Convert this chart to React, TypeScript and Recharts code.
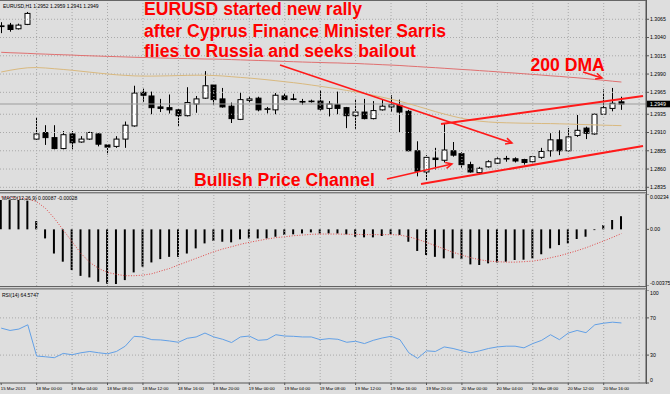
import React from 'react';
import { ComposedChart, Bar, Line, XAxis, YAxis, ReferenceLine } from 'recharts';

// EURUSD H1, 15 Mar 20:00 .. 20 Mar 18:00 (71 bars)
const opens = [
  1.3055, 1.3057, 1.3052, 1.3058, 1.2901, 1.2910, 1.2903, 1.2888, 1.2908, 1.2897,
  1.2901, 1.2908, 1.2893, 1.2891, 1.2901, 1.2919, 1.2965, 1.2960, 1.2945, 1.2944,
  1.2941, 1.2933, 1.2949, 1.2957, 1.2975, 1.2956, 1.2946, 1.2928, 1.2954, 1.2957,
  1.2942, 1.2941, 1.2960, 1.2956, 1.29525, 1.2953, 1.2953, 1.2943, 1.2948, 1.2944,
  1.2933, 1.2938, 1.2929, 1.2941, 1.2945, 1.2947, 1.2939, 1.2885, 1.2856, 1.2875,
  1.2872, 1.2885, 1.2881, 1.2866, 1.2855, 1.2863, 1.2868, 1.2874, 1.2874, 1.2873,
  1.2870, 1.2876, 1.2885, 1.2900, 1.2885, 1.2906, 1.2916, 1.2908, 1.2935, 1.2943, 1.2952,
];
const highs = [
  1.3061, 1.3060, 1.3059, 1.3075, 1.2931, 1.2920, 1.2920, 1.2912, 1.2912, 1.2905,
  1.2911, 1.2909, 1.2894, 1.2905, 1.2925, 1.2974, 1.2970, 1.2966, 1.2956, 1.2962,
  1.2942, 1.2972, 1.2960, 1.2994, 1.2976, 1.2971, 1.2951, 1.2965, 1.2960, 1.2959,
  1.2945, 1.2964, 1.2964, 1.2963, 1.2956, 1.2955, 1.2968, 1.2953, 1.2966, 1.2945,
  1.2956, 1.2956, 1.2953, 1.2955, 1.2961, 1.2955, 1.2941, 1.2898, 1.2879, 1.2889,
  1.2922, 1.2897, 1.2883, 1.2870, 1.2863, 1.2872, 1.2876, 1.2878, 1.2876, 1.2874,
  1.2878, 1.2889, 1.2909, 1.2913, 1.2916, 1.2934, 1.2918, 1.2936, 1.2969, 1.2971, 1.2959,
];
const lows = [
  1.3046, 1.3048, 1.3051, 1.3057, 1.2900, 1.2893, 1.2887, 1.2887, 1.2887, 1.2896,
  1.2900, 1.2891, 1.2880, 1.2889, 1.2889, 1.2918, 1.2952, 1.2935, 1.2938, 1.2936,
  1.2919, 1.2932, 1.2937, 1.2956, 1.2948, 1.2944, 1.2923, 1.2927, 1.2951, 1.2939,
  1.2936, 1.2935, 1.2954, 1.2954, 1.2948, 1.2951, 1.2940, 1.2932, 1.2935, 1.2916,
  1.2915, 1.2928, 1.2928, 1.2940, 1.2938, 1.2910, 1.2884, 1.2850, 1.2844, 1.2859,
  1.2869, 1.2877, 1.2862, 1.2855, 1.2854, 1.2862, 1.2867, 1.2870, 1.2869, 1.2866,
  1.2868, 1.2874, 1.2877, 1.2879, 1.2884, 1.2904, 1.2901, 1.2907, 1.2934, 1.2939, 1.2941,
];
const closes = [
  1.3056, 1.3051, 1.3057, 1.3073, 1.2908, 1.2903, 1.2888, 1.2907, 1.2896, 1.2901,
  1.2910, 1.2894, 1.2890, 1.2901, 1.2920, 1.2964, 1.2961, 1.2944, 1.2943, 1.2941,
  1.2933, 1.2951, 1.2956, 1.2974, 1.2955, 1.2945, 1.2929, 1.2955, 1.2956, 1.2941,
  1.29425, 1.2961, 1.2955, 1.29555, 1.2952, 1.29525, 1.2942, 1.2949, 1.2943, 1.2933,
  1.2938, 1.2929, 1.2940, 1.2946, 1.2948, 1.2938, 1.2885, 1.2857, 1.2876, 1.2873,
  1.2886, 1.2879, 1.2866, 1.2856, 1.2861, 1.2870, 1.2874, 1.28745, 1.2871, 1.2869,
  1.2877, 1.2884, 1.2900, 1.2885, 1.2904, 1.2913, 1.2909, 1.2935, 1.2944, 1.2950, 1.2949,
];

// 200 DMA (red) and slower tan average
const ma200 = [
  1.30198, 1.30192, 1.30188, 1.30183, 1.30177, 1.30173, 1.30168, 1.30164, 1.30160, 1.30154,
  1.30150, 1.30146, 1.30142, 1.30138, 1.30134, 1.30130, 1.30127, 1.30124, 1.30120, 1.30117,
  1.30114, 1.30112, 1.30109, 1.30106, 1.30105, 1.30102, 1.30098, 1.30094, 1.30090, 1.30086,
  1.30082, 1.30078, 1.30073, 1.30069, 1.30065, 1.30061, 1.30058, 1.30054, 1.30052, 1.30047,
  1.30045, 1.30039, 1.30034, 1.30028, 1.30023, 1.30017, 1.30009, 1.30002, 1.29994, 1.29987,
  1.29979, 1.29971, 1.29963, 1.29956, 1.29947, 1.29939, 1.29931, 1.29921, 1.29913, 1.29904,
  1.29895, 1.29886, 1.29876, 1.29868, 1.29858, 1.29849, 1.29838, 1.29826, 1.29815, 1.29802, 1.29791,
];
const maTan = [
  1.29928, 1.29952, 1.29972, 1.29986, 1.29989, 1.29983, 1.29973, 1.29963, 1.29952, 1.29939,
  1.29926, 1.29913, 1.29901, 1.29890, 1.29882, 1.29875, 1.29872, 1.29872, 1.29874, 1.29876,
  1.29879, 1.29882, 1.29884, 1.29884, 1.29880, 1.29874, 1.29864, 1.29854, 1.29845, 1.29834,
  1.29822, 1.29809, 1.29795, 1.29782, 1.29767, 1.29750, 1.29733, 1.29715, 1.29696, 1.29676,
  1.29656, 1.29634, 1.29609, 1.29583, 1.29556, 1.29527, 1.29494, 1.29459, 1.29423, 1.29386,
  1.29353, 1.29322, 1.29294, 1.29271, 1.29255, 1.29244, 1.29237, 1.29233, 1.29230, 1.29227,
  1.29226, 1.29223, 1.29222, 1.29219, 1.29216, 1.29212, 1.29208, 1.29204, 1.29200, 1.29197, 1.29194,
];

const macdHist = [
  0.00194, 0.00194, 0.00194, 0.0019, 0.00055, -0.0006, -0.0016, -0.00214, -0.00269, -0.00308,
  -0.00318, -0.00347, -0.0036, -0.00362, -0.00336, -0.00285, -0.00247, -0.00219, -0.00197, -0.00182,
  -0.00182, -0.0016, -0.00126, -0.00093, -0.00077, -0.00082, -0.00086, -0.00066, -0.0006, -0.0006,
  -0.0006, -0.00049, -0.00037, -0.00033, -0.00027, -0.0002, -0.00027, -0.00027, -0.00027, -0.00033,
  -0.00049, -0.00053, -0.00053, -0.00044, -0.00033, -0.00037, -0.00082, -0.00143, -0.0017, -0.00182,
  -0.00192, -0.00192, -0.00197, -0.00232, -0.00236, -0.00225, -0.00219, -0.00214, -0.00203, -0.00201,
  -0.00192, -0.00165, -0.00126, -0.00104, -0.00093, -0.00064, -0.00049, -0.00005, 0.00029, 0.00062, 0.00087,
];
const macdSignal = [
  0.00215, 0.00212, 0.00208, 0.00201, 0.00183, 0.00139, 0.00073, -0.00004, -0.00082, -0.00159,
  -0.00219, -0.00259, -0.00285, -0.00298, -0.00307, -0.00307, -0.00303, -0.00294, -0.00276, -0.00259,
  -0.00236, -0.00214, -0.00192, -0.0017, -0.00148, -0.0013, -0.00115, -0.00099, -0.00086, -0.00075,
  -0.00064, -0.00055, -0.00049, -0.00042, -0.00038, -0.00033, -0.00031, -0.00031, -0.00031, -0.00033,
  -0.00033, -0.00035, -0.00035, -0.00035, -0.00035, -0.00038, -0.00049, -0.00066, -0.00086, -0.00108,
  -0.0013, -0.00152, -0.0017, -0.00188, -0.00201, -0.0021, -0.00214, -0.00217, -0.00217, -0.00214,
  -0.0021, -0.00201, -0.00188, -0.00175, -0.00159, -0.00141, -0.00122, -0.00099, -0.00077, -0.00053, -0.00028,
];
const rsi = [
  59, 56.5, 58, 62.6, 29, 28.2, 27.2, 31.8, 30.4, 32.5,
  33.9, 32.5, 31.4, 33.9, 39.6, 50.2, 49.5, 46.6, 46.3, 45.2,
  43.8, 48.1, 49.5, 53.7, 49.5, 47, 43.5, 49.5, 50.5, 45.9,
  46.6, 51.9, 50.5, 50.2, 49.5, 49.5, 46.6, 47.7, 47, 43.8,
  44.9, 42.4, 45.9, 48.4, 50.2, 46.6, 32.5, 26.5, 34.6, 33.9,
  38.8, 37.1, 34.6, 32.5, 34.6, 37.1, 38.8, 39.6, 39.6, 37.8,
  42.4, 45.9, 51.9, 46.6, 53.7, 56.5, 54.1, 62.6, 64.3, 65.4, 64.5747,
];

const timeLabels = [
  '15 Mar 2013', '18 Mar 00:00', '18 Mar 04:00', '18 Mar 08:00', '18 Mar 12:00', '18 Mar 16:00',
  '18 Mar 20:00', '19 Mar 00:00', '19 Mar 04:00', '19 Mar 08:00', '19 Mar 12:00', '19 Mar 16:00',
  '19 Mar 20:00', '20 Mar 00:00', '20 Mar 04:00', '20 Mar 08:00', '20 Mar 12:00', '20 Mar 16:00',
];
const labelBars = [0, 4, 8, 12, 16, 20, 24, 28, 32, 36, 40, 44, 48, 52, 56, 60, 64, 68];
const gridBars = [4, 8, 12, 16, 20, 24, 28, 32, 36, 40, 44, 48, 52, 56, 60, 64, 68, 72];
const priceTicks = [1.3065, 1.304, 1.3015, 1.299, 1.2965, 1.2935, 1.291, 1.2885, 1.286, 1.2835];
const macdTicks = [0.00234, 0, -0.00375];
const rsiTicks = [100, 70, 30, 0];
const bid = 1.2949;

// hand-drawn lines on the chart, in (bar index, price)
const drawings = [
  { from: [31.47, 1.30024], to: [57.65, 1.28956], head: true, w: 1.5 },
  { from: [43.54, 1.28463], to: [50.88, 1.28669], head: true, w: 1.5 },
  { from: [47.38, 1.28395], to: [72.44, 1.28915], head: false, w: 2 },
  { from: [49.64, 1.29216], to: [72.44, 1.296], head: false, w: 2 },
  { from: [65.67, 1.29928], to: [67.81, 1.29846], head: true, w: 1.5 },
];

const rows = opens.map((o, i) => ({
  i,
  open: o,
  high: highs[i],
  low: lows[i],
  close: closes[i],
  hl: [lows[i], highs[i]],
  ma200: ma200[i],
  maTan: maTan[i],
  macd: macdHist[i],
  signal: macdSignal[i],
  rsi: rsi[i],
}));

const X_DOMAIN: [number, number] = [-0.135, 72.775];
const FONT = '"Liberation Sans", Arial, sans-serif';
const BG = '#dedede';
const GRID = '#a9a9a9';
const AXIS = '#555';

const Candle = (props: any) => {
  const { x, y, width, height, payload } = props;
  if (height == null || !payload) return null;
  const { open, close, high, low } = payload;
  const k = height / (high - low);
  const yOf = (v: number) => y + (high - v) * k;
  const cx = Math.round(x + width / 2) + 0.5;
  const top = yOf(Math.max(open, close));
  const bot = yOf(Math.min(open, close));
  const up = close >= open;
  return (
    <g>
      <line x1={cx} x2={cx} y1={y} y2={y + height} stroke="#000" strokeWidth={1} />
      <rect x={cx - 2.5} y={top} width={5} height={Math.max(bot - top, 0.6)} fill={up ? '#fff' : '#000'} stroke="#000" strokeWidth={1} />
    </g>
  );
};

const arrowShape = (head: boolean) => (p: any) => {
  const { x1, y1, x2, y2, stroke, strokeWidth } = p;
  const a = Math.atan2(y2 - y1, x2 - x1);
  const L = 7;
  const s = 0.45;
  return (
    <g>
      <line x1={x1} y1={y1} x2={x2} y2={y2} stroke={stroke} strokeWidth={strokeWidth} />
      {head && (
        <polyline
          points={`${x2 - L * Math.cos(a - s)},${y2 - L * Math.sin(a - s)} ${x2},${y2} ${x2 - L * Math.cos(a + s)},${y2 - L * Math.sin(a + s)}`}
          fill="none"
          stroke={stroke}
          strokeWidth={strokeWidth}
        />
      )}
    </g>
  );
};

const BidLabel = (props: any) => {
  const vb = props.viewBox;
  if (!vb) return null;
  const x = vb.x + vb.width + 1;
  return (
    <g>
      <rect x={x} y={vb.y - 3.3} width={670 - x} height={6.6} fill="#000" />
      <text x={x + 3} y={vb.y + 1.9} fontSize={5.2} fill="#fff" fontFamily={FONT}>
        {bid.toFixed(4)}
      </text>
    </g>
  );
};

const TimeTick = (props: any) => {
  const { x, y, payload } = props;
  const idx = labelBars.indexOf(payload.value);
  return (
    <text x={x - 0.5} y={y + 4.6} fontSize={4.4} fill="#000" textAnchor="start" fontFamily={FONT}>
      {timeLabels[idx]}
    </text>
  );
};

// right-axis label; labels at the window edges are pushed inside like the terminal does
const makeYTick = (fmt: (v: number) => string, top: number, bottom: number) => (props: any) => {
  const { x, y, payload } = props;
  const v = payload.value;
  const shift = v === top ? 2.7 : v === bottom ? -3 : 0;
  return (
    <text x={x} y={y + shift + 1.8} fontSize={5.2} fill="#000" textAnchor="start" fontFamily={FONT}>
      {fmt(v)}
    </text>
  );
};

const priceTick = makeYTick((v) => v.toFixed(4), NaN, NaN);
const macdTick = makeYTick((v) => (v === 0 ? '0.00' : v.toFixed(5)), 0.00234, -0.00375);
const rsiTick = makeYTick((v) => String(v), 100, 0);

const margin0 = { top: 0, right: 0, bottom: 0, left: 0 };

const vGrid = () =>
  gridBars.map((g) => <ReferenceLine key={'v' + g} x={g} stroke={GRID} strokeDasharray="1 2" />);

export default function App() {
  return (
    <div style={{ position: 'absolute', left: 0, top: 0, width: 670, height: 394, background: BG, fontFamily: FONT, overflow: 'hidden' }}>
      <div style={{ position: 'absolute', left: 0, top: 1 }}>
        <ComposedChart width={670} height={189} data={rows} margin={margin0}>
          <XAxis type="number" dataKey="i" domain={X_DOMAIN} allowDataOverflow hide />
          <YAxis
            orientation="right"
            width={24}
            domain={[1.28313, 1.309]}
            allowDataOverflow
            ticks={priceTicks}
            interval={0}
            tick={priceTick}
            tickSize={3}
            tickMargin={1}
            axisLine={{ stroke: AXIS }}
            tickLine={{ stroke: AXIS }}
          />
          {vGrid()}
          {priceTicks.map((t) => (
            <ReferenceLine key={'h' + t} y={t} stroke={GRID} strokeDasharray="1 2" />
          ))}
          <ReferenceLine y={bid} stroke="#9c9c9c" label={BidLabel} />
          <Line dataKey="ma200" stroke="#e07070" strokeWidth={1} dot={false} isAnimationActive={false} />
          <Line dataKey="maTan" stroke="#d9b97f" strokeWidth={1} dot={false} isAnimationActive={false} />
          <Bar dataKey="hl" barSize={6} shape={Candle} isAnimationActive={false} />
          {drawings.map((d, k) => (
            <ReferenceLine
              key={'d' + k}
              segment={[{ x: d.from[0], y: d.from[1] }, { x: d.to[0], y: d.to[1] }]}
              stroke="#ff1a1a"
              strokeWidth={d.w}
              shape={arrowShape(d.head)}
            />
          ))}
        </ComposedChart>
      </div>

      <div style={{ position: 'absolute', left: 0, top: 194 }}>
        <ComposedChart width={670} height={92} data={rows} margin={margin0}>
          <XAxis type="number" dataKey="i" domain={X_DOMAIN} allowDataOverflow hide />
          <YAxis
            orientation="right"
            width={24}
            domain={[-0.00375, 0.00234]}
            allowDataOverflow
            ticks={macdTicks}
            interval={0}
            tick={macdTick}
            tickSize={3}
            tickMargin={1}
            axisLine={{ stroke: AXIS }}
            tickLine={{ stroke: AXIS }}
          />
          {vGrid()}
          <Bar dataKey="macd" fill="#000" barSize={2} isAnimationActive={false} />
          <Line dataKey="signal" stroke="#e04848" strokeDasharray="1 1.6" strokeWidth={1} dot={false} isAnimationActive={false} />
        </ComposedChart>
      </div>

      <div style={{ position: 'absolute', left: 0, top: 290 }}>
        <ComposedChart width={670} height={104} data={rows} margin={margin0}>
          <XAxis
            type="number"
            dataKey="i"
            domain={X_DOMAIN}
            allowDataOverflow
            ticks={labelBars}
            interval={0}
            height={11}
            tick={TimeTick}
            tickSize={2}
            tickMargin={0}
            axisLine={{ stroke: AXIS }}
            tickLine={{ stroke: AXIS }}
          />
          <YAxis
            orientation="right"
            width={24}
            domain={[0, 100]}
            allowDataOverflow
            ticks={rsiTicks}
            interval={0}
            tick={rsiTick}
            tickSize={3}
            tickMargin={1}
            axisLine={{ stroke: AXIS }}
            tickLine={{ stroke: AXIS }}
          />
          {vGrid()}
          <ReferenceLine y={70} stroke={GRID} strokeDasharray="1 2" />
          <ReferenceLine y={30} stroke={GRID} strokeDasharray="1 2" />
          <Line dataKey="rsi" stroke="#62a0e6" strokeWidth={1} dot={false} isAnimationActive={false} />
        </ComposedChart>
      </div>

      <svg width={670} height={394} style={{ position: 'absolute', left: 0, top: 0, pointerEvents: 'none' }}>
        <line x1={0} x2={647} y1={0.5} y2={0.5} stroke="#666" />
        <line x1={0} x2={647} y1={190.5} y2={190.5} stroke="#555" />
        <line x1={0} x2={647} y1={192.8} y2={192.8} stroke="#555" />
        <line x1={0} x2={647} y1={286.6} y2={286.6} stroke="#555" />
        <line x1={0} x2={647} y1={288.9} y2={288.9} stroke="#555" />
        <line x1={646.5} x2={646.5} y1={0} y2={384} stroke={AXIS} />

        <text x={3} y={7.8} fontSize={5} fill="#000">EURUSD,H1  1.2952 1.2959 1.2941 1.2949</text>
        <text x={2} y={200.3} fontSize={5} fill="#000">MACD(12,26,9) 0.00087 -0.00028</text>
        <text x={2} y={297} fontSize={5} fill="#000">RSI(14) 64.5747</text>

        <g fill="#ff0000" fontWeight="bold" fontSize={17.6}>
          <text x={144} y={15.3}>EURUSD started new rally</text>
          <text x={144} y={36.5}>after Cyprus Finance Minister Sarris</text>
          <text x={144} y={57}>flies to Russia and seeks bailout</text>
          <text x={530.5} y={70.7}>200 DMA</text>
          <text x={194} y={185.5}>Bullish Price Channel</text>
        </g>
      </svg>
    </div>
  );
}
